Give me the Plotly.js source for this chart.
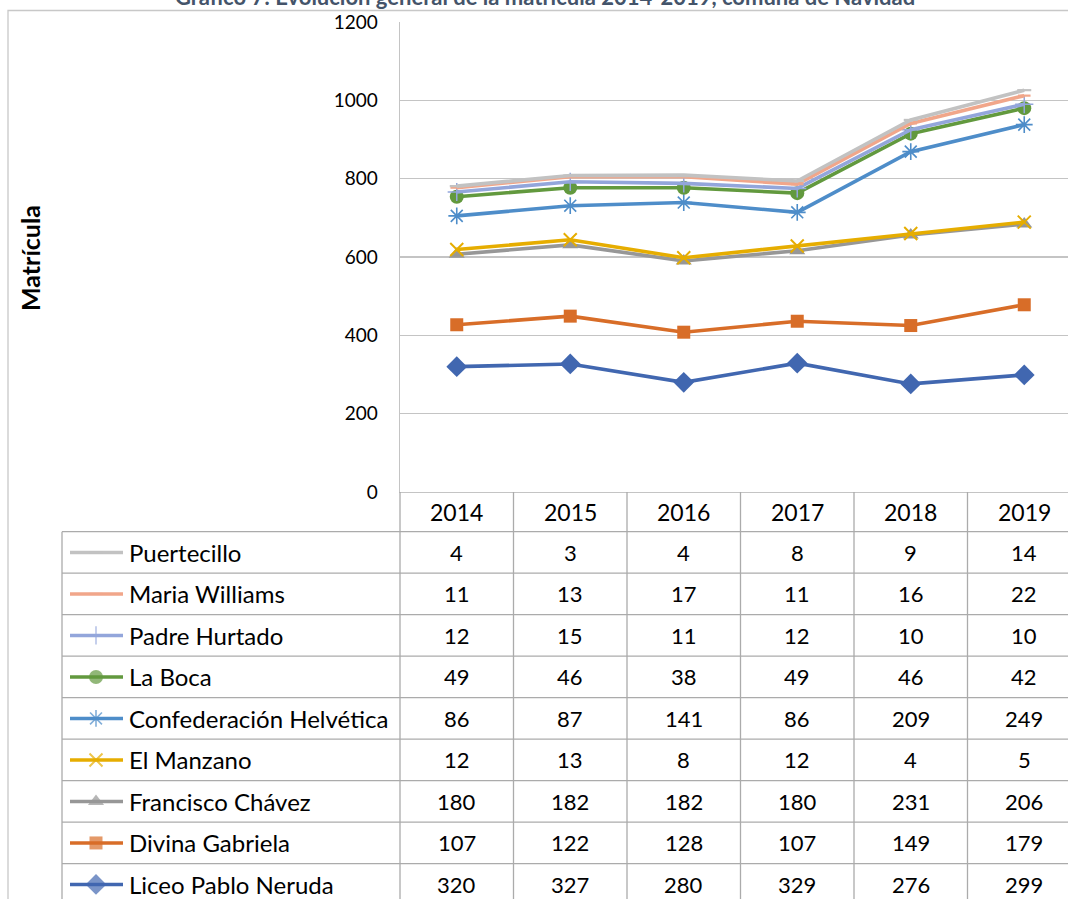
<!DOCTYPE html>
<html>
<head>
<meta charset="utf-8">
<script src="https://cdn.plot.ly/plotly-3.0.1.min.js"></script>
<style>
  html, body { margin: 0; padding: 0; background: #fff; }
  #chart { width: 1068px; height: 899px; }
</style>
</head>
<body>
<div id="chart"></div>
<script>
// enrolment per school, 2014-2019 (stacked in the chart)
var years = ['2014', '2015', '2016', '2017', '2018', '2019'];
var schools = ['Liceo Pablo Neruda', 'Divina Gabriela', 'Francisco Chávez', 'El Manzano',
  'Confederación Helvética', 'La Boca', 'Padre Hurtado', 'Maria Williams', 'Puertecillo'];

var liceoPabloNeruda = [320, 327, 280, 329, 276, 299];
var divinaGabriela = [107, 122, 128, 107, 149, 179];
var franciscoChavez = [180, 182, 182, 180, 231, 206];
var elManzano = [12, 13, 8, 12, 4, 5];
var confederacionHelvetica = [86, 87, 141, 86, 209, 249];
var laBoca = [49, 46, 38, 49, 46, 42];
var padreHurtado = [12, 15, 11, 12, 10, 10];
var mariaWilliams = [11, 13, 17, 11, 16, 22];
var puertecillo = [4, 3, 4, 8, 9, 14];

var series = [liceoPabloNeruda, divinaGabriela, franciscoChavez, elManzano,
  confederacionHelvetica, laBoca, padreHurtado, mariaWilliams, puertecillo];

// look of each series, same order as schools
var styles = [
  {color: '#4167b0', symbol: 'diamond', size: 16, lw: 0},
  {color: '#d86d28', symbol: 'square', size: 13, lw: 0},
  {color: '#979797', symbol: 'triangle-up', size: 14, lw: 0},
  {color: '#e6ad00', symbol: 'x-thin', size: 13, lw: 2},
  {color: '#4e8dc9', symbol: 'asterisk', size: 14, lw: 1.6},
  {color: '#62993e', symbol: 'circle', size: 14, lw: 0},
  {color: '#93a6db', symbol: 'cross-thin', size: 13, lw: 1.5},
  {color: '#f1a68a', symbol: 'line-ew', size: 9, lw: 2.2},
  {color: '#c2c2c2', symbol: 'line-ew', size: 10, lw: 2.2}
];

var W = 1068, H = 899;
function px(x) { return x / W; }
function py(y) { return 1 - y / H; }

var axisY0 = 492;        // pixel row of value 0
var rowTop = 531.7;      // first table row
var rowH = 41.5;
var colLeft = 400, colW = 113.5;
var gridColor = '#c4c4c4', tableColor = '#ababab';
var tableFont = {family: 'Lato', size: 22, color: '#000'};

function colCenter(j) { return px(colLeft + colW * (j + 0.5)); }

var data = [];
var shapes = [];
var annotations = [];

series.forEach(function (vals, i) {
  var st = styles[i];
  data.push({
    type: 'scatter',
    mode: 'lines+markers',
    name: schools[i],
    x: years,
    y: vals,
    stackgroup: 'matricula',
    fill: 'none',
    line: {color: st.color, width: 3.6},
    marker: {symbol: st.symbol, size: st.size, color: st.color,
      line: {color: st.color, width: st.lw}},
    hoverinfo: 'skip',
    showlegend: false
  });
});

// table rows: top row is the last series
var rows = schools.slice().reverse();
rows.forEach(function (name, r) {
  var i = schools.length - 1 - r;
  var st = styles[i];
  var cy = rowTop + rowH * r + rowH / 2;
  // legend key drawn on the pixel-space overlay axis
  data.push({
    type: 'scatter',
    mode: 'lines+markers',
    x: [70, 96, 123],
    y: [cy, cy, cy],
    xaxis: 'x2',
    yaxis: 'y2',
    line: {color: st.color, width: 3.6},
    marker: {symbol: st.symbol, size: [0, st.size, 0], color: st.color,
      line: {color: st.color, width: st.lw}},
    hoverinfo: 'skip',
    showlegend: false,
    cliponaxis: false
  });
  annotations.push({
    xref: 'paper', yref: 'paper', x: px(127), y: py(cy),
    xanchor: 'left', yanchor: 'middle', showarrow: false,
    text: name, font: {family: 'Lato', size: 24, color: '#000'}
  });
  series[i].forEach(function (v, j) {
    annotations.push({
      xref: 'paper', yref: 'paper', x: colCenter(j), y: py(cy),
      xanchor: 'center', yanchor: 'middle', showarrow: false,
      text: String(v), font: tableFont
    });
  });
});

// header years
years.forEach(function (yr, j) {
  annotations.push({
    xref: 'paper', yref: 'paper', x: colCenter(j), y: py((axisY0 + rowTop) / 2),
    xanchor: 'center', yanchor: 'middle', showarrow: false,
    text: yr, font: {family: 'Lato', size: 23, color: '#000'}
  });
});

// table grid
for (var r = 0; r <= rows.length; r++) {
  var yy = rowTop + rowH * r;
  shapes.push({type: 'line', xref: 'paper', yref: 'paper',
    x0: px(62), x1: 1.05, y0: py(yy), y1: py(yy),
    line: {color: tableColor, width: 1.3}});
}
shapes.push({type: 'line', xref: 'paper', yref: 'paper',
  x0: px(62), x1: px(62), y0: py(rowTop), y1: -0.05,
  line: {color: tableColor, width: 1.3}});
for (var k = 0; k <= years.length; k++) {
  var xx = colLeft + colW * k;
  shapes.push({type: 'line', xref: 'paper', yref: 'paper',
    x0: px(xx), x1: px(xx), y0: py(axisY0), y1: -0.05,
    line: {color: tableColor, width: 1.3}});
}

// outer chart frame
shapes.push({type: 'rect', xref: 'paper', yref: 'paper',
  x0: px(8), x1: 1.1, y0: -0.1, y1: py(10.5),
  line: {color: '#c8c8c8', width: 1.3}, fillcolor: 'rgba(0,0,0,0)', layer: 'below'});

// title (clipped by the top edge like the source image)
annotations.push({
  xref: 'paper', yref: 'paper', x: px(545), y: py(-4),
  xanchor: 'center', yanchor: 'middle', showarrow: false,
  text: '<b>Gráfico 7: Evolución general de la matrícula 2014-2019, comuna de Navidad</b>',
  font: {family: 'Lato', size: 22, color: '#44546a'}
});

// y-axis title
annotations.push({
  xref: 'paper', yref: 'paper', x: px(30), y: py(258),
  xanchor: 'center', yanchor: 'middle', showarrow: false, textangle: -90,
  text: '<b>Matrícula</b>',
  font: {family: 'Lato', size: 25, color: '#000'}
});

var xRight = (W - colLeft) / colW - 0.5;

var layout = {
  width: W,
  height: H,
  margin: {l: 0, r: 0, t: 0, b: 0},
  paper_bgcolor: '#fff',
  plot_bgcolor: 'rgba(0,0,0,0)',
  showlegend: false,
  xaxis: {
    type: 'category',
    domain: [px(colLeft), 1],
    range: [-0.5, xRight],
    showgrid: false,
    showticklabels: false,
    ticks: '',
    showline: true,
    linecolor: gridColor,
    linewidth: 1.3,
    zeroline: false,
    fixedrange: true
  },
  yaxis: {
    domain: [py(axisY0), py(22)],
    range: [0, 1200],
    dtick: 200,
    showgrid: true,
    gridcolor: gridColor,
    gridwidth: 1.3,
    showline: true,
    linecolor: gridColor,
    linewidth: 1.3,
    zeroline: false,
    ticks: '',
    ticklabelstandoff: 17,
    tickfont: {family: 'Lato', size: 19, color: '#000'},
    fixedrange: true
  },
  xaxis2: {
    domain: [0, 1], range: [0, W], anchor: 'y2',
    visible: false, fixedrange: true
  },
  yaxis2: {
    domain: [0, 1], range: [H, 0], anchor: 'x2',
    visible: false, fixedrange: true
  },
  shapes: shapes,
  annotations: annotations
};

Plotly.newPlot('chart', data, layout, {displayModeBar: false, staticPlot: true});
</script>
</body>
</html>
